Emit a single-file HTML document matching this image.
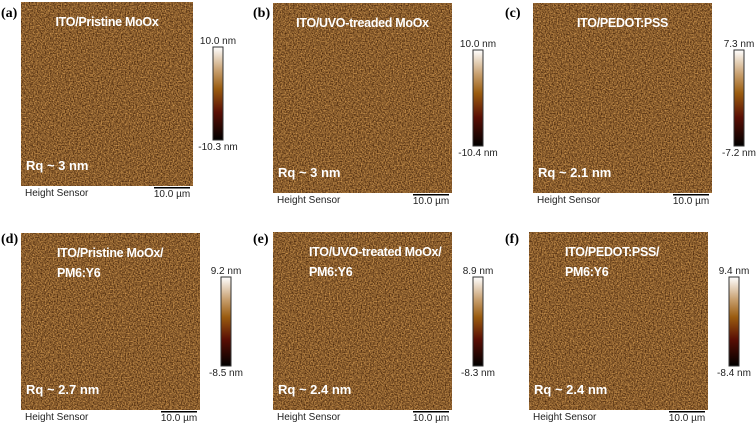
<!DOCTYPE html>
<html><head><meta charset="utf-8"><style>
html,body{margin:0;padding:0;background:#fff;}
svg{display:block;}
.lbl{font-family:"Liberation Serif",serif;font-weight:bold;font-size:14px;fill:#000;}
.ttl{font-family:"Liberation Sans",sans-serif;font-weight:bold;font-size:12.5px;fill:#fff;letter-spacing:-0.3px;}
.rq{font-family:"Liberation Sans",sans-serif;font-weight:bold;font-size:13px;fill:#fff;}
.sm{font-family:"Liberation Sans",sans-serif;font-size:10px;fill:#222;}
</style></head><body>
<svg width="756" height="426" viewBox="0 0 756 426">
<defs>
<filter id="afm" x="0" y="0" width="1" height="1" color-interpolation-filters="sRGB">
<feTurbulence type="fractalNoise" baseFrequency="0.75" numOctaves="2" seed="3"/>
<feColorMatrix type="matrix" values="0.9 0 0 0 0.09  0.75 0 0 0 -0.01  0.45 0 0 0 -0.05  0 0 0 0 1"/>
</filter>
<linearGradient id="cbg" x1="0" y1="1" x2="0" y2="0">
<stop offset="0" stop-color="#000"/>
<stop offset="0.3" stop-color="#5a0f05"/>
<stop offset="0.55" stop-color="#9a5c10"/>
<stop offset="0.75" stop-color="#c8a070"/>
<stop offset="1" stop-color="#fff"/>
</linearGradient>
</defs>
<g id="panels"></g>
</svg>
<script>
const panelLetters=['(a)','(b)','(c)','(d)','(e)','(f)'];
const titles=[['ITO/Pristine MoOx'],['ITO/UVO-treaded MoOx'],['ITO/PEDOT:PSS'],['ITO/Pristine MoOx/','PM6:Y6'],['ITO/UVO-treated MoOx/','PM6:Y6'],['ITO/PEDOT:PSS/','PM6:Y6']];
const rqLabels=['Rq ~ 3 nm','Rq ~ 3 nm','Rq ~ 2.1 nm','Rq ~ 2.7 nm','Rq ~ 2.4 nm','Rq ~ 2.4 nm'];
const cbMax=['10.0 nm','10.0 nm','7.3 nm','9.2 nm','8.9 nm','9.4 nm'];
const cbMin=['-10.3 nm','-10.4 nm','-7.2 nm','-8.5 nm','-8.3 nm','-8.4 nm'];
const L=[
 {lx:1,ly:17,x:21,y:2,w:172,h:184,cx:213,cy:47,ch:93,tc:true},
 {lx:253,ly:17,x:273,y:3,w:179,h:190,cx:473,cy:50,ch:96,tc:true},
 {lx:505,ly:17,x:533,y:3,w:179,h:190,cx:734,cy:50,ch:96,tc:true},
 {lx:1,ly:243,x:21,y:233,w:179,h:177,cx:221,cy:277,ch:89,tc:false},
 {lx:253,ly:243,x:273,y:232,w:179,h:178,cx:473,cy:277,ch:89,tc:false},
 {lx:505,ly:243,x:529,y:232,w:179,h:178,cx:729,cy:277,ch:89,tc:false}
];
const NS='http://www.w3.org/2000/svg';
const g=document.getElementById('panels');
function mk(t,a,txt){const e=document.createElementNS(NS,t);for(const k in a)e.setAttribute(k,a[k]);if(txt!==undefined)e.textContent=txt;g.appendChild(e);return e;}
L.forEach((p,i)=>{
 let e;
 e=mk('text',{x:p.lx,y:p.ly,class:'lbl'},panelLetters[i]);
 
 
 e=mk('rect',{x:p.x,y:p.y,width:p.w,height:p.h,fill:'#8a5a24',filter:'url(#afm)'});
 
 
 titles[i].forEach((t,j)=>{
  const a=p.tc?{x:p.x+p.w/2,y:p.y+24,'text-anchor':'middle',class:'ttl'}:{x:p.x+36,y:p.y+24+j*20,class:'ttl'};
  e=mk('text',a,t);
  
  
 });
 e=mk('text',{x:p.x+5,y:p.y+p.h-16,class:'rq'},rqLabels[i]);
 
 
 e=mk('rect',{x:p.cx,y:p.cy,width:10,height:p.ch,fill:'url(#cbg)',stroke:'#333','stroke-width':1});
 
 
 e=mk('text',{x:p.cx+5,y:p.cy-3,'text-anchor':'middle',class:'sm'},cbMax[i]);
 
 
 e=mk('text',{x:p.cx+5,y:p.cy+p.ch+10,'text-anchor':'middle',class:'sm'},cbMin[i]);
 
 
 e=mk('text',{x:p.x+4,y:p.y+p.h+10,class:'sm'},'Height Sensor');
 
 
 e=mk('rect',{x:p.x+p.w-39,y:p.y+p.h+1,width:36,height:1.5,fill:'#000'});
 
 
 e=mk('text',{x:p.x+p.w-21,y:p.y+p.h+11,'text-anchor':'middle',class:'sm'},'10.0 µm');
 
 
});
</script>
</body></html>
